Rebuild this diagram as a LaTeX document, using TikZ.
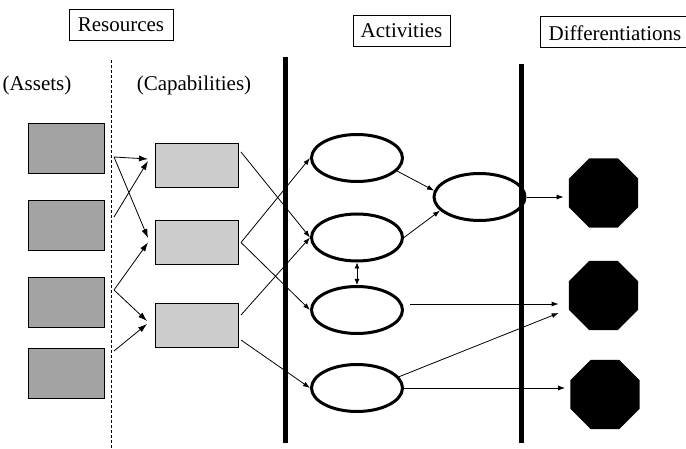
\documentclass[tikz,border=0pt]{standalone}
\usepackage{fontspec}
\setmainfont{Liberation Serif}
\usetikzlibrary{arrows.meta,shapes.geometric}
\begin{document}
\begin{tikzpicture}[x=1pt,y=-1pt,
  lbl/.style={font=\fontsize{21}{25}\selectfont, inner sep=0pt},
  hdr/.style={lbl, draw, line width=0.8pt, minimum height=31, inner xsep=4pt},
  asset/.style={draw, line width=1pt, fill=black!36, minimum width=76, minimum height=50, inner sep=0pt},
  capab/.style={draw, line width=1pt, fill=black!20, minimum width=83, minimum height=44, inner sep=0pt},
  activ/.style={ellipse, draw, line width=3pt, minimum width=91, minimum height=47, inner sep=0pt},
  diff/.style={regular polygon, regular polygon sides=8, fill=black, draw=none, minimum size=75, inner sep=0pt},
  con/.style={line width=0.8pt},
  big/.style={con, -{Latex[length=9pt,width=6pt]}},
  small/.style={con, -{Latex[length=7pt,width=5pt]}},
  bar/.style={line width=5pt}
]
\useasboundingbox (0,0) rectangle (686,449);
\clip (0,0) rectangle (686,449);

% headers
\node[hdr, minimum width=104] (res) at (121,24.5) {Resources};
\node[hdr, minimum width=97] (act) at (401.5,31) {Activities};
\node[hdr, minimum width=150] (dif) at (615,32) {};
\node[lbl] (diftext) at (615,33) {Differentiations};
\node[lbl] (assets) at (37,85) {(Assets)};
\node[lbl] (capab) at (194,85) {(Capabilities)};

% separators
\coordinate (d1) at (111,60);
\coordinate (d2) at (111,449);
\draw[con, dash pattern=on 3pt off 2pt] (d1) -- (d2);
\coordinate (b1t) at (285,57);
\coordinate (b1b) at (285,443);
\coordinate (b2t) at (521,64);
\coordinate (b2b) at (521,443);
\draw[bar] (b1t) -- (b1b);
\draw[bar] (b2t) -- (b2b);

% assets
\node[asset] (a1) at (66.5,148.5) {};
\node[asset] (a2) at (66.5,225.5) {};
\node[asset] (a3) at (66.5,302.5) {};
\node[asset] (a4) at (66.5,373) {};

% capabilities
\node[capab] (c1) at (197,165.5) {};
\node[capab] (c2) at (197,242.5) {};
\node[capab] (c3) at (197,325.5) {};

% activities
\node[activ] (e1) at (357,158) {};
\node[activ] (e2) at (357,237.5) {};
\node[activ] (e3) at (357,310) {};
\node[activ] (e4) at (357,388) {};
\node[activ] (e5) at (479.5,197) {};

% differentiations
\node[diff] (o1) at (603.5,193) {};
\node[diff] (o2) at (603.5,295.5) {};
\node[diff] (o3) at (605,394.5) {};

% assets -> capabilities
\draw[big] ([shift={(9,8.5)}]a1.east) -- ([shift={(-7,-6.5)}]c1.west);
\draw[big] ([shift={(9,8.5)}]a1.east) -- ([shift={(-7,-4.5)}]c2.west);
\draw[big] ([shift={(9,-8.5)}]a2.east) -- ([shift={(-7,-4.5)}]c1.west);
\draw[big] ([shift={(9,-12.5)}]a3.east) -- ([shift={(-7,0)}]c2.west);
\draw[big] ([shift={(9,-12.5)}]a3.east) -- ([shift={(-8,-4.5)}]c3.west);
\draw[big] ([shift={(9,-22)}]a4.east) -- ([shift={(-8,-1.5)}]c3.west);

% capabilities -> activities
\draw[small] ([shift={(2,-13.5)}]c1.east) -- (e2.west);
\draw[small] ([shift={(2,0)}]c2.east) -- (e1.west);
\draw[small] ([shift={(2,0)}]c2.east) -- (e3.west);
\draw[small] ([shift={(2,-10.5)}]c3.east) -- (e2.west);
\draw[small] ([shift={(2,14.5)}]c3.east) -- (e4.west);

% activities -> activities
\draw[small] (e1.-18) -- (e5.172);
\draw[small] (e2.east) -- (e5.199);
\draw[con, {Latex[length=6pt,width=5pt]}-{Latex[length=6pt,width=5pt]}] (e2.south) -- (e3.north);

% activities -> differentiations
\coordinate (t1) at ([xshift=-5]o1.west);
\coordinate (t2) at ([xshift=-10]o2.west);
\coordinate (t3) at ([xshift=-5]o3.west);
\draw[small] (e5.east) -- (t1 |- e5.east);
\draw[small] ([shift={(6,-6)}]e3.east) -- ([yshift=-8.5]t2);
\draw[small] (e4.15) -- ([yshift=-17.5]t2);
\draw[small] (e4.east) -- (t3 |- e4.east);
\end{tikzpicture}
\end{document}
